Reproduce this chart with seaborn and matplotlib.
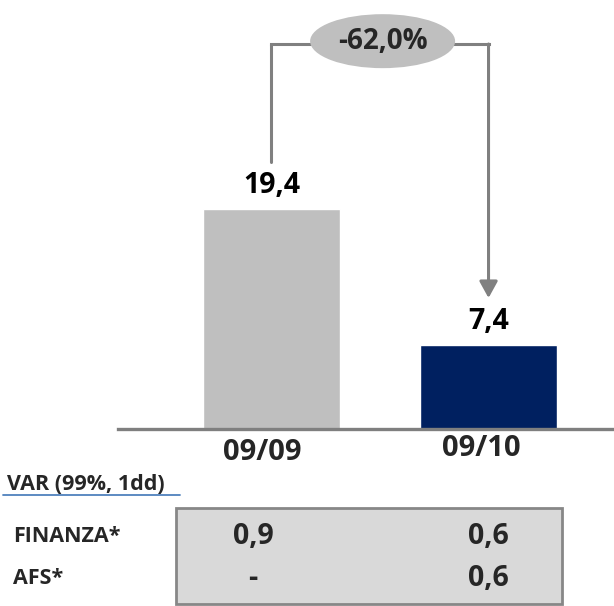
import matplotlib
matplotlib.use("Agg")
import matplotlib.pyplot as plt
import matplotlib.transforms as mtransforms
import seaborn as sns
import pandas as pd
from matplotlib.patches import Ellipse, Rectangle
from matplotlib.lines import Line2D

categories = ["09/09", "09/10"]
values = [19.4, 7.4]
value_labels = ["19,4", "7,4"]
change_label = "-62,0%"
table_title = "VAR (99%, 1dd)"
row_labels = ["FINANZA*", "AFS*"]
row_0909 = ["0,9", "-"]
row_0910 = ["0,6", "0,6"]
bar_colors = ["#bfbfbf", "#002060"]

sns.set_style("white")
plt.rcParams["font.family"] = ["Open Sans", "DejaVu Sans"]

W, H = 614, 606
fig = plt.figure(figsize=(W / 100, H / 100), dpi=100)
ax = fig.add_axes([118 / W, 1 - 429 / H, 1 - 118 / W, 429 / H])

df = pd.DataFrame({"cat": categories, "val": values})
sns.barplot(data=df, x="cat", y="val", hue="cat", palette=bar_colors,
            width=0.63, legend=False, ax=ax, saturation=1)

ax.set_xlim(-0.707, 1.578)
ax.set_ylim(0, 37.83)
for s in ["top", "right", "left"]:
    ax.spines[s].set_visible(False)
ax.spines["bottom"].set_color("#7f7f7f")
ax.spines["bottom"].set_linewidth(2.4)
ax.set_yticks([])
ax.set_xlabel("")
ax.set_ylabel("")
ax.set_xticks(range(len(categories)))
ax.set_xticklabels(categories, fontsize=21, fontweight="bold")
ax.tick_params(axis="x", length=0, pad=0)
for lab, dx, dy in zip(ax.get_xticklabels(), [-9, -7], [-23, -19]):
    lab.set_verticalalignment("center")
    lab.set_transform(lab.get_transform() +
                      mtransforms.ScaledTranslation(dx / 100, dy / 100,
                                                    fig.dpi_scale_trans))

for i, (v, lab) in enumerate(zip(values, value_labels)):
    ax.text(i, v + 2.05, lab, ha="center", va="center", fontsize=20.5,
            fontweight="bold", color="black")

# bracket with change label
ytop = 33.95
gray = "#808080"
ax.add_line(Line2D([0, 0], [values[0] + 4.14, ytop], color=gray, lw=2.2))
ax.add_line(Line2D([0, 1], [ytop, ytop], color=gray, lw=2.2,
                   solid_capstyle="projecting"))
ax.annotate("", xy=(1, values[1] + 4.15), xytext=(1, ytop),
            arrowprops=dict(arrowstyle="-|>,head_length=1.0,head_width=0.55",
                            color=gray, lw=2.2, shrinkA=0, shrinkB=0))
ax.add_patch(Ellipse((0.512, 34.2), 0.668, 4.76, facecolor="#bfbfbf",
                     edgecolor="none", zorder=5))
ax.text(0.512, 34.2, change_label, ha="center", va="center", fontsize=20,
        fontweight="bold", zorder=6)

# table area
def fx(x):
    return x / W

def fy(y):
    return 1 - y / H

fig.text(fx(7), fy(484), table_title, ha="left", va="center", fontsize=15.5,
         fontweight="bold")
fig.add_artist(Line2D([fx(3), fx(180)], [fy(495), fy(495)], color="#4f81bd",
                      lw=1.3))
fig.add_artist(Rectangle((fx(176), fy(604)), (562 - 176) / W, 96 / H,
                         facecolor="#d9d9d9", edgecolor="#878787", lw=2))
row_y = [537, 579]
for i, ry in enumerate(row_y):
    fig.text(fx(13), fy(ry), row_labels[i], ha="left", va="center",
             fontsize=15.5, fontweight="bold")
    fig.text(fx(253), fy(ry), row_0909[i], ha="center", va="center",
             fontsize=20.5, fontweight="bold")
    fig.text(fx(488), fy(ry), row_0910[i], ha="center", va="center",
             fontsize=20.5, fontweight="bold")

fig.savefig("out.png", dpi=100)
